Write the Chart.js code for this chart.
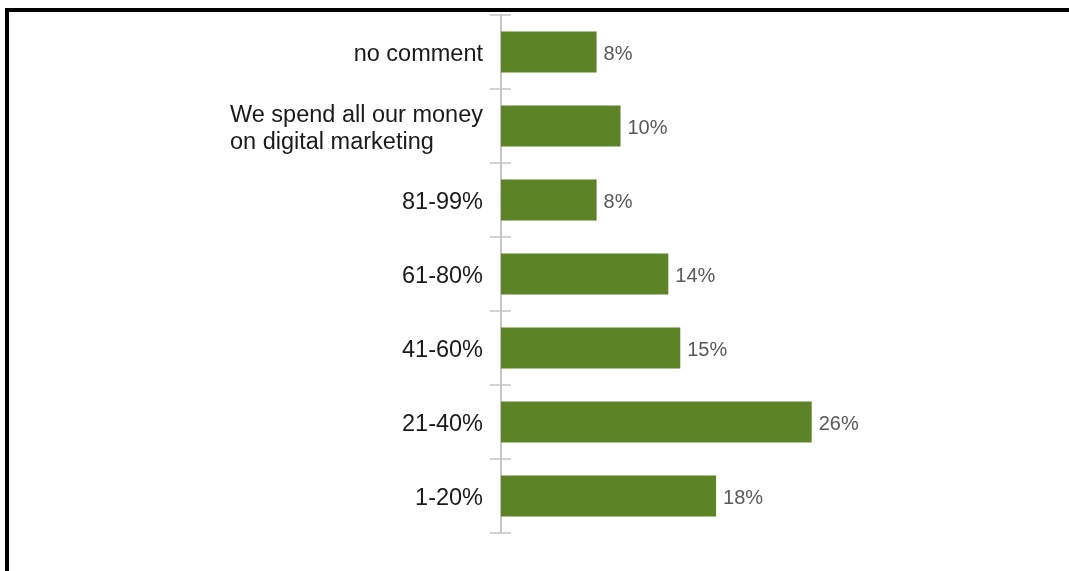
<!DOCTYPE html>
<html>
<head>
<meta charset="utf-8">
<script src="https://cdn.jsdelivr.net/npm/chart.js@4"></script>
<style>
  body { margin: 0; background: #fff; }
  #wrap { position: relative; width: 1069px; height: 571px; }
  #frame {
    position: absolute; left: 5px; top: 8px; right: 0; bottom: 0;
    border-top: 4px solid #000; border-left: 4px solid #000;
    pointer-events: none;
  }
</style>
</head>
<body>
<div id="wrap">
  <canvas id="budget-chart" width="1069" height="571"></canvas>
  <div id="frame"></div>
</div>
<script>
const categories = [
    "no comment",
    ["We spend all our money", "on digital marketing"],
    "81-99%",
    "61-80%",
    "41-60%",
    "21-40%",
    "1-20%"
];
const shares = [8, 10, 8, 14, 15, 26, 18];
const shareLabels = ["8%", "10%", "8%", "14%", "15%", "26%", "18%"];

const AXIS_GREY = "#c6c6c6";
const LABEL_FONT = "23.5px 'Liberation Sans', Arial, sans-serif";
const VALUE_FONT = "20px 'Liberation Sans', Arial, sans-serif";

// category labels: multi-line ones stay left aligned inside a right-aligned block
const categoryLabels = {
    id: "categoryLabels",
    afterDraw(chart) {
        const { ctx } = chart;
        const yScale = chart.scales.y;
        const rightEdge = yScale.right - 18;
        const lineHeight = 27;
        ctx.save();
        ctx.font = LABEL_FONT;
        ctx.fillStyle = "#1a1a1a";
        ctx.textAlign = "left";
        ctx.textBaseline = "middle";
        categories.forEach((label, i) => {
            const lines = Array.isArray(label) ? label : [label];
            const maxWidth = Math.max(...lines.map(l => ctx.measureText(l).width));
            const center = yScale.getPixelForValue(i);
            let y = center - (lines.length - 1) * lineHeight / 2 + 3;
            lines.forEach(line => {
                ctx.fillText(line, rightEdge - maxWidth, y);
                y += lineHeight;
            });
        });
        ctx.restore();
    }
};

// small crosses on the axis between categories
const axisTicks = {
    id: "axisTicks",
    afterDraw(chart) {
        const { ctx, chartArea } = chart;
        const step = (chartArea.bottom - chartArea.top) / categories.length;
        ctx.save();
        ctx.strokeStyle = AXIS_GREY;
        ctx.lineWidth = 1.5;
        for (let i = 0; i <= categories.length; i++) {
            const y = chartArea.top + i * step;
            ctx.beginPath();
            ctx.moveTo(chartArea.left - 11, y);
            ctx.lineTo(chartArea.left + 10, y);
            ctx.stroke();
        }
        ctx.restore();
    }
};

// percentage text at the end of each bar
const valueLabels = {
    id: "valueLabels",
    afterDatasetsDraw(chart) {
        const { ctx } = chart;
        const bars = chart.getDatasetMeta(0).data;
        ctx.save();
        ctx.font = VALUE_FONT;
        ctx.fillStyle = "#595959";
        ctx.textAlign = "left";
        ctx.textBaseline = "middle";
        bars.forEach((bar, i) => {
            ctx.fillText(shareLabels[i], bar.x + 7, bar.y + 2);
        });
        ctx.restore();
    }
};

const ctx = document.getElementById("budget-chart").getContext("2d");

new Chart(ctx, {
    type: "bar",
    data: {
        labels: categories,
        datasets: [{
            data: shares,
            backgroundColor: "#5c8427",
            borderWidth: 0,
            barPercentage: 0.554,
            categoryPercentage: 1.0
        }]
    },
    options: {
        indexAxis: "y",
        responsive: false,
        animation: false,
        layout: {
            padding: { top: 15, bottom: 38, left: 0, right: 90 }
        },
        plugins: {
            legend: { display: false },
            tooltip: { enabled: false }
        },
        scales: {
            x: {
                display: false,
                min: 0,
                max: 40
            },
            y: {
                offset: true,
                grid: { display: false },
                border: { display: true, color: AXIS_GREY, width: 2 },
                ticks: { display: false },
                afterFit(scale) {
                    scale.width = 501;
                }
            }
        }
    },
    plugins: [categoryLabels, axisTicks, valueLabels]
});
</script>
</body>
</html>
